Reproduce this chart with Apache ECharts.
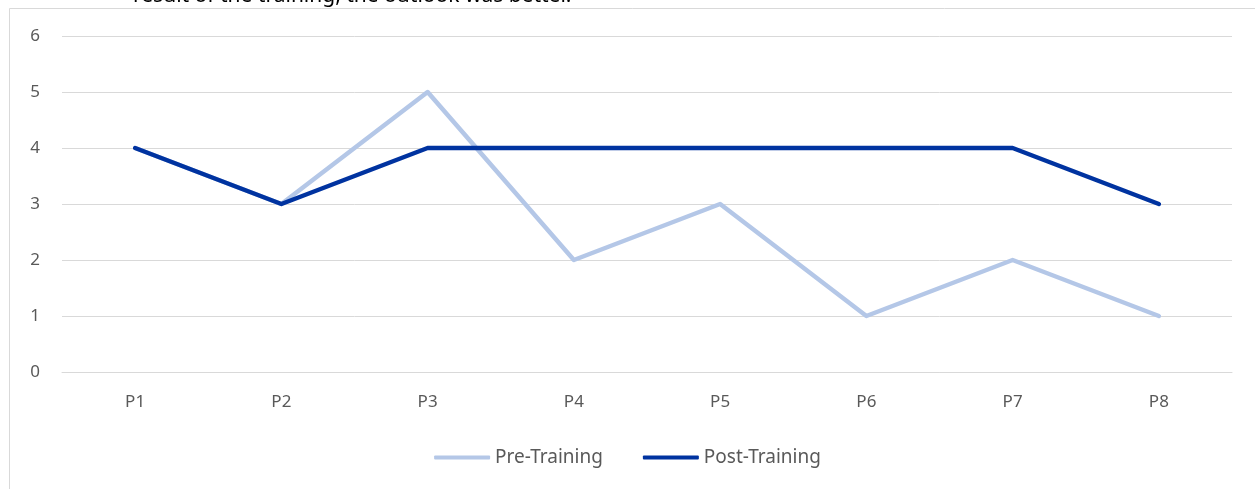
<!DOCTYPE html>
<html><head><meta charset="utf-8">
<script src="https://cdn.jsdelivr.net/npm/echarts@6/dist/echarts.min.js"></script>
<style>html,body{margin:0;padding:0;background:#fff}#c{width:1255px;height:489px}</style>
</head><body><div id="c"></div>
<script>
const categories = ['P1','P2','P3','P4','P5','P6','P7','P8'];
const preTraining = [4,3,5,2,3,1,2,1];
const postTraining = [4,3,4,4,4,4,4,3];
const yTicks = [0,1,2,3,4,5,6];
const seriesNames = ['Pre-Training','Post-Training'];

const chart = echarts.init(document.getElementById('c'), null, {renderer:'canvas'});
const font = 'Noto Sans, Open Sans, sans-serif';
chart.setOption({
  animation:false,
  backgroundColor:'#fff',
  graphic:[
    {type:'rect', shape:{x:9.5,y:8.5,width:1300,height:600}, style:{fill:'none',stroke:'#d9d9d9',lineWidth:1}, z:-1},
    {type:'text', left:133, top:-14, style:{text:'result of the training, the outlook was better.', fill:'#000', font:'21px '+font}}
  ],
  grid:{left:62,right:23,top:36,bottom:117,containLabel:false},
  legend:{bottom:17,left:'center',itemWidth:56,itemHeight:4,itemGap:40,icon:'roundRect',
    textStyle:{color:'#595959',fontSize:19,fontFamily:font},
    data:seriesNames},
  xAxis:{type:'category',data:categories,boundaryGap:true,
    axisLine:{show:true,lineStyle:{color:'#d9d9d9'}},axisTick:{show:false},
    axisLabel:{color:'#595959',fontSize:17,fontFamily:font,margin:22}},
  yAxis:{type:'value',min:yTicks[0],max:yTicks[yTicks.length-1],interval:1,
    axisLine:{show:false},axisTick:{show:false},
    splitLine:{lineStyle:{color:'#d9d9d9',width:1}},
    axisLabel:{color:'#595959',fontSize:17,fontFamily:font,margin:22}},
  series:[
    {name:seriesNames[0],type:'line',data:preTraining,symbol:'none',
      lineStyle:{color:'#b4c7e7',width:4.5,cap:'round',join:'round'},itemStyle:{color:'#b4c7e7'}},
    {name:seriesNames[1],type:'line',data:postTraining,symbol:'none',
      lineStyle:{color:'#0033a0',width:4.5,cap:'round',join:'round'},itemStyle:{color:'#0033a0'}}
  ]
});
</script></body></html>
